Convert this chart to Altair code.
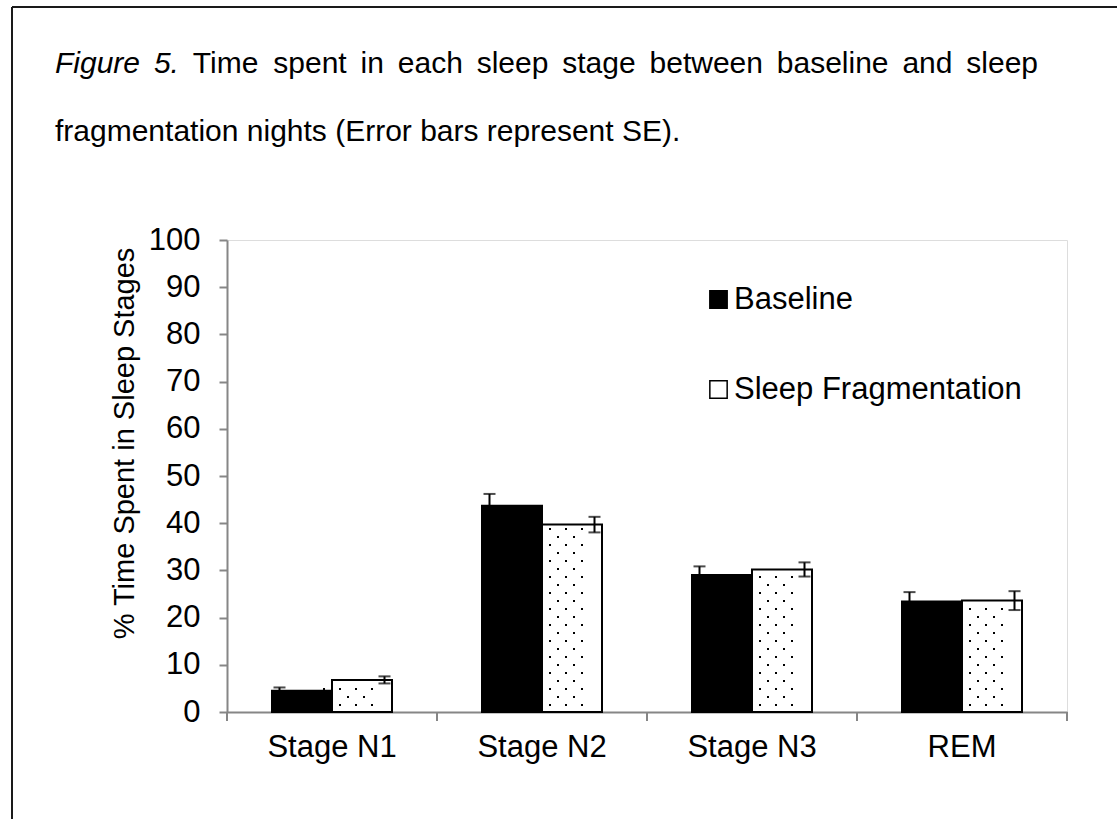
import altair as alt
import pandas as pd

# Sleep stage percentages (mean and standard error) per condition
stages = ["Stage N1", "Stage N2", "Stage N3", "REM"]
series = ["Baseline", "Sleep Fragmentation"]
baseline_mean = [4.5, 43.7, 29.0, 23.4]
baseline_se = [0.7, 2.5, 1.85, 2.0]
frag_mean = [6.8, 39.7, 30.2, 23.6]
frag_se = [0.75, 1.65, 1.5, 2.0]
y_ticks = [0, 10, 20, 30, 40, 50, 60, 70, 80, 90, 100]

caption_italic = ["Figure", "5."]
caption_words = ["Time", "spent", "in", "each", "sleep", "stage", "between",
                 "baseline", "and", "sleep"]
caption_line2 = "fragmentation nights (Error bars represent SE)."
y_title = "% Time Spent in Sleep Stages"

FONT = "Liberation Sans"
AXIS_GREY = "#868686"

rows = []
for name, means, ses in [(series[0], baseline_mean, baseline_se),
                         (series[1], frag_mean, frag_se)]:
    for stage, m, s in zip(stages, means, ses):
        rows.append({"stage": stage, "series": name, "value": m,
                     "lo": m - s, "hi": m + s})
df = pd.DataFrame(rows)

W, H = 840, 472
PAD = {"left": 227, "top": 240, "right": 50, "bottom": 107}
PX_PER_UNIT = H / 100.0
BAND = W / len(stages)

x_enc = alt.X(
    "stage:N", sort=stages,
    scale=alt.Scale(paddingInner=0, paddingOuter=0),
    axis=alt.Axis(title=None, labelAngle=0, labelFont=FONT, labelFontSize=31,
                  labelColor="black", domainColor=AXIS_GREY, domainWidth=2,
                  ticks=False, tickSize=0, labelPadding=20),
)
xoff_enc = alt.XOffset("series:N", sort=series,
                       scale=alt.Scale(paddingInner=0, paddingOuter=0.75))
y_scale = alt.Scale(domain=[0, 100], nice=False)

bars = alt.Chart(df).mark_bar(stroke="black", strokeWidth=2).encode(
    x=x_enc,
    xOffset=xoff_enc,
    y=alt.Y("value:Q", scale=y_scale,
            axis=alt.Axis(values=y_ticks, grid=False, title=y_title,
                          labelFont=FONT, labelFontSize=31, labelColor="black",
                          labelPadding=19, domainColor=AXIS_GREY, domainWidth=2,
                          tickColor=AXIS_GREY, tickWidth=2, tickSize=8,
                          titleFont=FONT, titleFontSize=29,
                          titleFontWeight="normal", titleColor="black",
                          titleX=-103, titleY=203, titleBaseline="middle",
                          titleAlign="center", titleAngle=270)),
    fill=alt.Fill("series:N", sort=series,
                  scale=alt.Scale(domain=series, range=["black", "white"]),
                  legend=alt.Legend(title=None, orient="none",
                                    legendX=476, legendY=44, padding=0,
                                    symbolType="square", symbolSize=300,
                                    symbolStrokeColor="black",
                                    symbolStrokeWidth=1.5,
                                    labelFont=FONT, labelFontSize=31,
                                    labelColor="black", labelOffset=0,
                                    labelLimit=0, rowPadding=58)),
)

# dotted texture inside the Sleep Fragmentation bars
bar_left = BAND * 0.75 / 3.5 * 2  # left edge of the second bar in its band
even_cols = [bar_left + d for d in (7, 23, 39, 55)]
odd_cols = [bar_left + d for d in (15, 31, 47)]
dots = alt.Chart(df[df["series"] == series[1]]).transform_calculate(
    k=f"sequence(0, floor((datum.value * {PX_PER_UNIT} - 10) / 8) + 1)"
).transform_flatten(["k"]).transform_calculate(
    dx=f"(datum.k % 2 == 0) ? {even_cols} : {odd_cols}"
).transform_flatten(["dx"]).transform_calculate(
    ydot=f"(7 + 8 * datum.k) / {PX_PER_UNIT}"
).mark_square(size=4, color="black", opacity=1).encode(
    x=alt.X("stage:N", sort=stages),
    xOffset=alt.XOffset("dx:Q", scale=alt.Scale(domain=[0, BAND])),
    y=alt.Y("ydot:Q", scale=y_scale),
)

# centre dot of the dotted legend swatch
legend_dot = alt.Chart(pd.DataFrame({"k": [0]})).mark_square(
    size=4, color="black", opacity=1).encode(
    x=alt.value(490), y=alt.value(148))

err = alt.Chart(df).mark_rule(color="black", strokeWidth=2).encode(
    x=alt.X("stage:N", sort=stages),
    xOffset=alt.XOffset("series:N", sort=series),
    y=alt.Y("lo:Q", scale=y_scale),
    y2="hi:Q",
)
cap_hi = alt.Chart(df).mark_tick(color="black", thickness=2, size=12).encode(
    x=alt.X("stage:N", sort=stages),
    xOffset=alt.XOffset("series:N", sort=series),
    y=alt.Y("hi:Q", scale=y_scale),
)
cap_lo = alt.Chart(df).mark_tick(color="black", thickness=2, size=12).encode(
    x=alt.X("stage:N", sort=stages),
    xOffset=alt.XOffset("series:N", sort=series),
    y=alt.Y("lo:Q", scale=y_scale),
)

# category boundary ticks below the x axis
stage_df = pd.DataFrame({"stage": stages})
ticks_start = alt.Chart(stage_df).mark_rule(color=AXIS_GREY, strokeWidth=2).encode(
    x=alt.X("stage:N", sort=stages, bandPosition=0),
    y=alt.value(H), y2=alt.value(H + 9),
)
ticks_end = alt.Chart(stage_df.tail(1)).mark_rule(color=AXIS_GREY, strokeWidth=2).encode(
    x=alt.X("stage:N", sort=stages, bandPosition=1),
    y=alt.value(H), y2=alt.value(H + 9),
)

# caption: first line is justified between the margins
CAP_SIZE = 30
ADV = {"F": 611, "i": 222, "g": 556, "u": 556, "r": 333, "e": 556, "5": 556,
       ".": 278, "T": 611, "m": 833, "s": 500, "p": 556, "n": 556, "t": 278,
       "a": 556, "c": 500, "h": 556, "l": 222, "b": 556, "w": 722, "d": 556}


def word_width(w):
    return sum(ADV[ch] for ch in w) * CAP_SIZE / 1000.0


LEFT, RIGHT = 55, 1038
all_words = caption_italic + caption_words
gap = (RIGHT - LEFT - sum(word_width(w) for w in all_words)) / (len(all_words) - 1)
xs, pos = [], LEFT
for w in all_words:
    xs.append(pos)
    pos += word_width(w) + gap
words_df = pd.DataFrame({"w": all_words, "x": [x - PAD["left"] for x in xs],
                         "it": [1] * len(caption_italic) + [0] * len(caption_words)})

cap1_it = alt.Chart(words_df[words_df["it"] == 1]).mark_text(
    font=FONT, fontSize=CAP_SIZE, fontStyle="italic", align="left",
    baseline="alphabetic", color="black").encode(
    text="w:N", x=alt.X("x:Q", scale=None), y=alt.value(73 - PAD["top"]))
cap1_rm = alt.Chart(words_df[words_df["it"] == 0]).mark_text(
    font=FONT, fontSize=CAP_SIZE, align="left",
    baseline="alphabetic", color="black").encode(
    text="w:N", x=alt.X("x:Q", scale=None), y=alt.value(73 - PAD["top"]))
cap2 = alt.Chart(pd.DataFrame({"t": [caption_line2]})).mark_text(
    font=FONT, fontSize=CAP_SIZE, align="left", baseline="alphabetic",
    color="black").encode(
    text="t:N", x=alt.value(LEFT - PAD["left"]), y=alt.value(141 - PAD["top"]))

# frame around the figure
one = pd.DataFrame({"k": [0]})
frame_top = alt.Chart(one).mark_rule(color="#1a1a1a", strokeWidth=2).encode(
    x=alt.value(12 - PAD["left"]), x2=alt.value(1117 - PAD["left"] + 5),
    y=alt.value(7 - PAD["top"]))
frame_left = alt.Chart(one).mark_rule(color="#1a1a1a", strokeWidth=2).encode(
    x=alt.value(12 - PAD["left"]),
    y=alt.value(7 - PAD["top"]), y2=alt.value(819 - PAD["top"] + 5))

chart = alt.layer(
    frame_top, frame_left, cap1_it, cap1_rm, cap2,
    bars, dots, legend_dot, err, cap_hi, cap_lo, ticks_start, ticks_end,
).resolve_scale(
    xOffset="independent",
).properties(
    width=W, height=H, padding=PAD, autosize="none",
).configure_view(stroke=None).configure(background="white")

chart.save("out.html", embed_options={"renderer": "svg", "actions": False})
